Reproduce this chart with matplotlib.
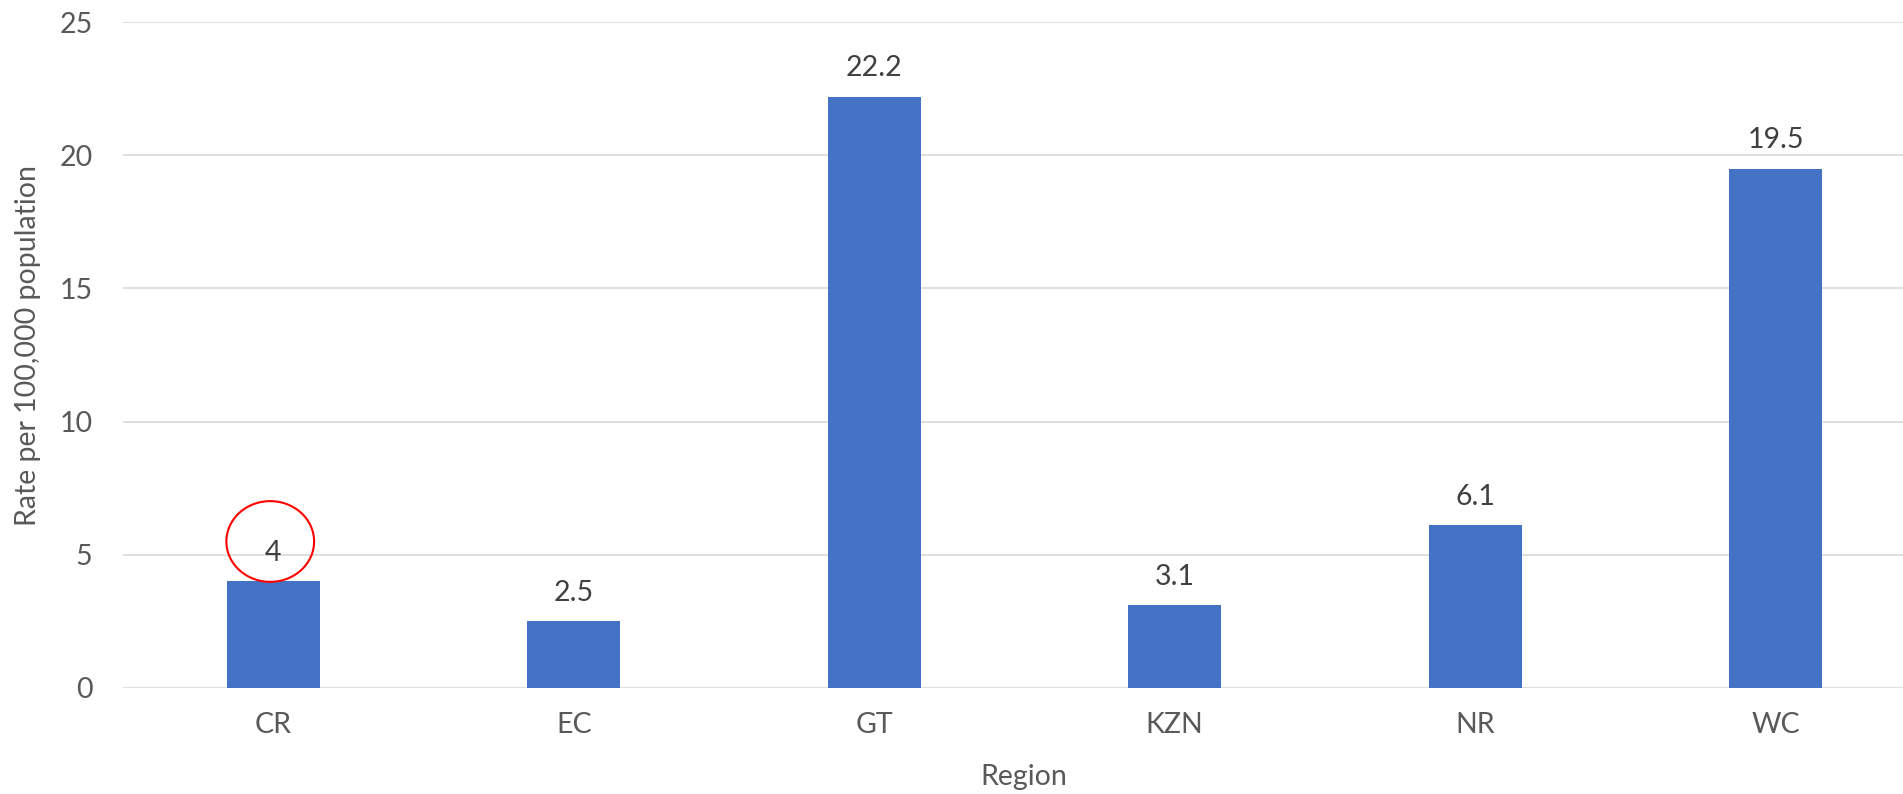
import matplotlib
matplotlib.use("Agg")
import matplotlib.pyplot as plt
from matplotlib.patches import Ellipse

regions = ["CR", "EC", "GT", "KZN", "NR", "WC"]
rates = [4, 2.5, 22.2, 3.1, 6.1, 19.5]
value_labels = ["4", "2.5", "22.2", "3.1", "6.1", "19.5"]
y_ticks = [0, 5, 10, 15, 20, 25]

plt.rcParams['font.family'] = ['Lato', 'DejaVu Sans']
FS = 20.5

W, H = 1903, 794
fig = plt.figure(figsize=(W / 100, H / 100), dpi=100)
left, right, top, bottom = 123, 1926, 22, 688
ax = fig.add_axes([left / W, 1 - bottom / H, (right - left) / W, (bottom - top) / H])

x = list(range(len(regions)))
ax.bar(x, rates, width=0.31, color="#4472C4", zorder=3)
ax.set_xlim(-0.5, len(regions) - 0.5)
ax.set_ylim(0, 25)
ax.set_yticks(y_ticks)
ax.set_yticklabels([str(t) for t in y_ticks])
ax.set_xticks(x)
ax.set_xticklabels(regions)

for s in ax.spines.values():
    s.set_visible(False)
ax.tick_params(axis="both", length=0, labelsize=FS, labelcolor="#595959")
ax.tick_params(axis="y", pad=22)
ax.tick_params(axis="x", pad=17)
ax.yaxis.grid(True, color="#D9D9D9", linewidth=1.2, zorder=0)
ax.set_axisbelow(True)

for xi, v, lab in zip(x, rates, value_labels):
    ax.annotate(lab, (xi, v), xytext=(0, 15), textcoords="offset points",
                ha="center", va="baseline", fontsize=FS, color="#404040")

ax.set_xlabel("Region", fontsize=FS, color="#595959")
ax.xaxis.set_label_coords((1024 - 123) / 1803, (688 - 777) / 666)
ax.xaxis.label.set_va("center")
ax.set_ylabel("Rate per 100,000 population", fontsize=FS, color="#595959")
ax.yaxis.set_label_coords((28 - 123) / 1803, (688 - 345) / 666)
ax.yaxis.label.set_va("center")

# red circle highlighting the CR label
ax.add_patch(Ellipse((regions.index("CR") - 0.01, 5.5), 0.292, 3.03, fill=False,
                     edgecolor="#FF0000", linewidth=1.5, zorder=5, clip_on=False))

fig.savefig("out.png", dpi=100)
